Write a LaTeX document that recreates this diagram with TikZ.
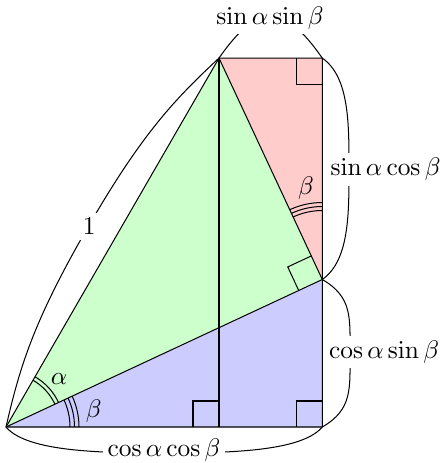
\documentclass[tikz,border=0pt]{standalone}
\usetikzlibrary{calc}
\begin{document}
\begin{tikzpicture}[x=0.3937pt,y=0.3937pt,
  lbl/.style={fill=white, inner sep=2pt},
  geo/.style={line width=0.4pt, line join=round},
  thin mark/.style={line width=0.4pt}]
\useasboundingbox (0,0) rectangle (445,463);
% geometry points
\coordinate (O) at (6,36);
\coordinate (A) at ($(O)+(60:426)$);
\coordinate (B) at ($(O)+(25:349)$);
\coordinate (P) at (B |- O);
\coordinate (C) at (B |- A);
\coordinate (F) at (A |- O);
% brace midpoints
\coordinate (mb) at ($(O)!0.5!(P)+(0,-26)$);
\coordinate (m1) at ($(O)!0.5!(A)+(150:29)$);
\coordinate (mt) at ($(A)!0.5!(C)+(0,41)$);
\coordinate (mr) at ($(B)!0.5!(C)+(26.7,0)$);
\coordinate (mr2) at ($(P)!0.5!(B)+(27.7,0)$);
% braces
\draw[thin mark] (O) .. controls ($(O)+(-50:33)$) and ($(mb)+(-60,0)$) .. (mb)
   .. controls ($(mb)+(60,0)$) and ($(P)+(-130:33)$) .. (P);
\draw[thin mark] (O) .. controls ($(O)+(77:60)$) and ($(m1)+(240:110)$) .. (m1)
   .. controls ($(m1)+(60:110)$) and ($(A)+(223:60)$) .. (A);
\draw[thin mark] (A) .. controls ($(A)+(55:25)$) and ($(mt)+(-20,0)$) .. (mt)
   .. controls ($(mt)+(20,0)$) and ($(C)+(125:25)$) .. (C);
\draw[thin mark] (C) .. controls ($(C)+(-35:33)$) and ($(mr)+(0,45)$) .. (mr)
   .. controls ($(mr)+(0,-45)$) and ($(B)+(35:33)$) .. (B);
\draw[thin mark] (B) .. controls ($(B)+(-30:35)$) and ($(mr2)+(0,35)$) .. (mr2)
   .. controls ($(mr2)+(0,-35)$) and ($(P)+(30:35)$) .. (P);
% brace labels
\node[lbl, anchor=base] (tcc) at (164,6.5) {$\cos\alpha\cos\beta$};
\node[lbl] (tone) at (89.3,236.3) {$1$};
\node[lbl, anchor=base] (tss) at (270,439) {$\sin\alpha\sin\beta$};
\node[lbl, anchor=base] (tsc) at (385.5,287.3) {$\sin\alpha\cos\beta$};
\node[lbl, anchor=base] (tcs) at (384,104.7) {$\cos\alpha\sin\beta$};
% fills
\fill[blue!20] (O) -- (P) -- (B) -- cycle;
\fill[green!20] (O) -- (B) -- (A) -- cycle;
\fill[red!20] (A) -- (B) -- (C) -- cycle;
% right angle marks
\draw[thin mark] ($(C)+(-26,0)$) -- ($(C)+(-26,-26)$) -- ($(C)+(0,-26)$);
\draw[thin mark] ($(P)+(-26,0)$) -- ($(P)+(-26,26)$) -- ($(P)+(0,26)$);
\draw[thin mark] ($(F)+(-26,0)$) -- ($(F)+(-26,26)$) -- ($(F)+(0,26)$);
\draw[thin mark] ($(B)+(205:26)$) -- ($(B)+(205:26)+(115:26)$) -- ($(B)+(115:26)$);
% angle arcs
\draw[thin mark] ($(O)+(25:54)$) arc[start angle=25, end angle=60, radius=54];
\draw[thin mark] ($(O)+(25:58)$) arc[start angle=25, end angle=60, radius=58];
\draw[thin mark] ($(O)+(0:64)$) arc[start angle=0, end angle=25, radius=64];
\draw[thin mark] ($(O)+(0:68.5)$) arc[start angle=0, end angle=25, radius=68.5];
\draw[thin mark] ($(O)+(0:73)$) arc[start angle=0, end angle=25, radius=73];
\draw[thin mark] ($(B)+(90:69)$) arc[start angle=90, end angle=115, radius=69];
\draw[thin mark] ($(B)+(90:73)$) arc[start angle=90, end angle=115, radius=73];
\draw[thin mark] ($(B)+(90:77)$) arc[start angle=90, end angle=115, radius=77];
\node (la) at (59,84) {$\alpha$};
\node (lbo) at (93.7,52.2) {$\beta$};
\node (lbb) at (306,274.5) {$\beta$};
% edges
\draw[geo] (O) -- (P) -- (C) -- (A) -- cycle;
\draw[geo] (O) -- (B) -- (A);
\draw[geo] (A) -- (F);
\end{tikzpicture}
\end{document}
